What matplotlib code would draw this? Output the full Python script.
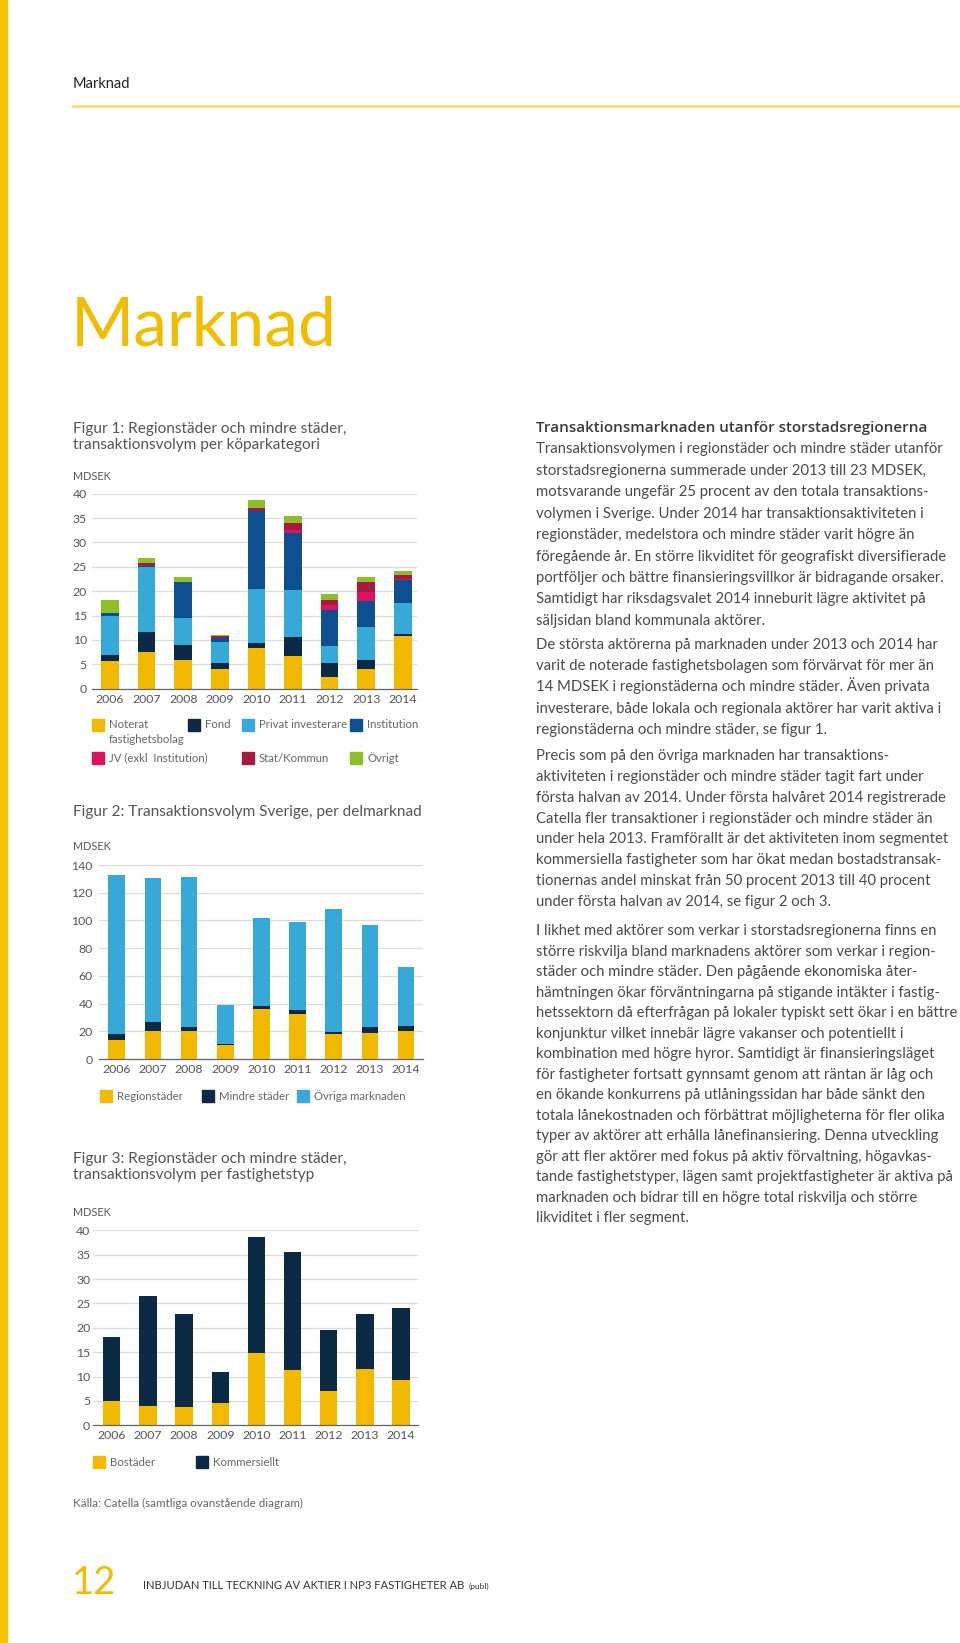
import numpy as np
import matplotlib
matplotlib.use("Agg")
import matplotlib.pyplot as plt
from matplotlib.patches import Rectangle
from matplotlib.lines import Line2D

plt.rcParams['font.family'] = ['Lato', 'DejaVu Sans']

W, H = 960, 1643

years = ['2006', '2007', '2008', '2009', '2010', '2011', '2012', '2013', '2014']

# Figur 1 - per köparkategori (MDSEK)
f1_names = ['Noterat\nfastighetsbolag', 'Fond', 'Privat investerare', 'Institution',
            'JV (exkl  Institution)', 'Stat/Kommun', 'Övrigt']
noterat = [5.6, 7.6, 5.9, 4.0, 8.3, 6.7, 2.3, 4.0, 10.8]
fond = [1.4, 4.1, 3.0, 1.3, 1.1, 4.0, 3.0, 1.9, 0.4]
privat = [7.9, 13.3, 5.7, 4.2, 11.0, 9.5, 3.5, 6.7, 6.4]
institution = [0.6, 0.1, 7.2, 1.0, 16.0, 11.7, 7.4, 5.4, 4.6]
jv = [0, 0, 0, 0, 0, 0.7, 0.9, 1.8, 0.4]
stat = [0, 0.6, 0.1, 0.3, 0.7, 1.4, 1.0, 2.1, 0.8]
ovrigt = [2.7, 1.1, 1.1, 0.3, 1.7, 1.4, 1.4, 1.0, 0.8]

# Figur 2 - per delmarknad (MDSEK)
f2_names = ['Regionstäder', 'Mindre städer', 'Övriga marknaden']
regionstader = [13.7, 20.2, 20.2, 9.9, 35.8, 32.2, 18.0, 18.5, 20.0]
mindre = [4.3, 6.3, 2.7, 0.9, 2.7, 3.2, 1.5, 4.4, 4.1]
ovriga = [115.0, 104.1, 108.7, 28.2, 63.5, 63.7, 88.8, 73.8, 42.1]

# Figur 3 - per fastighetstyp (MDSEK)
f3_names = ['Bostäder', 'Kommersiellt']
bostader = [4.9, 4.0, 3.8, 4.6, 14.8, 11.4, 7.0, 11.5, 9.2]
kommersiellt = [13.3, 22.6, 19.1, 6.4, 23.8, 24.1, 12.6, 11.3, 14.8]

YEL = '#f2b900'
NAVY = '#0b2a45'
LBLUE = '#36a9d9'
BLUE = '#0e4f92'
PINK = '#de1360'
CRIM = '#a51b40'
GREEN = '#8dbf2a'
GREY = '#555555'

f1_colors = [YEL, NAVY, LBLUE, BLUE, PINK, CRIM, GREEN]
f2_colors = [YEL, NAVY, LBLUE]
f3_colors = [YEL, NAVY]


def fx(x):
    return x / W


def fy(y):
    return 1 - y / H


fig = plt.figure(figsize=(W / 100, H / 100), dpi=100)


def make_axes(left, right, top, bottom):
    return fig.add_axes([fx(left), fy(bottom), (right - left) / W, (bottom - top) / H])


def style(ax, ymax, step, xlim, ypad):
    x = np.arange(len(years))
    ax.set_xlim(*xlim)
    ax.set_ylim(0, ymax)
    ax.set_yticks(np.arange(0, ymax + 1, step))
    ax.set_xticks(x)
    ax.set_xticklabels(years)
    for s in ['top', 'right', 'left']:
        ax.spines[s].set_visible(False)
    ax.spines['bottom'].set_color('#666666')
    ax.spines['bottom'].set_linewidth(0.9)
    ax.tick_params(axis='both', length=0, labelsize=8.8, colors=GREY)
    ax.tick_params(axis='y', pad=ypad)
    ax.tick_params(axis='x', pad=3.5)
    ax.grid(axis='y', color='#dcdcdc', linewidth=0.9)
    ax.set_axisbelow(True)


def stack(ax, series, colors, width):
    x = np.arange(len(years))
    bottom = np.zeros(len(years))
    for vals, c in zip(series, colors):
        vals = np.array(vals, dtype=float)
        ax.bar(x, vals, width, bottom=bottom, color=c, linewidth=0)
        bottom += vals


LEG = 8.2


def legend_item(x, y, color, label):
    fig.add_artist(Rectangle((fx(x), fy(y + 6)), 12 / W, 12 / H, color=color,
                             transform=fig.transFigure))
    fig.text(fx(x + 17), fy(y), label, fontsize=LEG, color='#666666', va='center')


# page decoration
fig.add_artist(Rectangle((0, 0), 7 / W, 1, color='#f5c100', transform=fig.transFigure))
fig.text(fx(73), fy(84), 'Marknad', fontsize=10.5, color='#222222', va='center')
fig.add_artist(Line2D([fx(73), 1], [fy(106), fy(106)], color='#f7dc7c', linewidth=2,
                      transform=fig.transFigure))
fig.text(fx(71), fy(346), 'Marknad', fontsize=49, color='#f2bd00', va='baseline')

# Figur 1
fig.text(fx(73), fy(437), 'Figur 1: Regionstäder och mindre städer,\ntransaktionsvolym per köparkategori',
         fontsize=11.1, color=GREY, va='center', linespacing=1.25)
fig.text(fx(73), fy(477), 'MDSEK', fontsize=7.8, color=GREY, va='center')
ax1 = make_axes(91.7, 416.7, 493.7, 688.7)
stack(ax1, [noterat, fond, privat, institution, jv, stat, ovrigt], f1_colors, 0.48)
style(ax1, 40, 5, (-0.5, 8.38), 3.5)
pos1 = [(92, 725), (188, 725), (242, 725), (350, 725), (92, 758), (242, 758), (350, 758)]
for (x, y), c, name in zip(pos1, f1_colors, f1_names):
    if '\n' in name:
        first, second = name.split('\n')
        legend_item(x, y, c, first)
        fig.text(fx(x + 17), fy(y + 15), second, fontsize=LEG, color='#666666', va='center')
    else:
        legend_item(x, y, c, name)

# Figur 2
fig.text(fx(73), fy(812), 'Figur 2: Transaktionsvolym Sverige, per delmarknad',
         fontsize=11.1, color=GREY, va='center')
fig.text(fx(73), fy(846), 'MDSEK', fontsize=7.8, color=GREY, va='center')
ax2 = make_axes(99, 423, 865, 1059)
stack(ax2, [regionstader, mindre, ovriga], f2_colors, 0.46)
style(ax2, 140, 20, (-0.49, 8.47), 4.5)
for x, c, name in zip([99.5, 202, 296.6], f2_colors, f2_names):
    legend_item(x, 1096, c, name)

# Figur 3
fig.text(fx(73), fy(1167), 'Figur 3: Regionstäder och mindre städer,\ntransaktionsvolym per fastighetstyp',
         fontsize=11.1, color=GREY, va='center', linespacing=1.25)
fig.text(fx(73), fy(1213), 'MDSEK', fontsize=7.8, color=GREY, va='center')
ax3 = make_axes(93, 418, 1230.3, 1425.3)
stack(ax3, [bostader, kommersiellt], f3_colors, 0.48)
style(ax3, 40, 5, (-0.52, 8.47), 2.0)
for x, c, name in zip([93, 196], f3_colors, f3_names):
    legend_item(x, 1462, c, name)

fig.text(fx(73), fy(1503), 'Källa: Catella (samtliga ovanstående diagram)', fontsize=8.4,
         color='#666666', va='center')

# footer
fig.text(fx(72), fy(1594), '12', fontsize=27.5, color='#f2bd00', va='baseline')
fig.text(fx(143), fy(1589), 'INBJUDAN TILL TECKNING AV AKTIER I NP3 FASTIGHETER AB',
         fontsize=8.1, color='#333333', va='baseline')
fig.text(fx(469), fy(1589), '(publ)', fontsize=6, color='#333333', va='baseline')

# right column text
heading = 'Transaktionsmarknaden utanför storstadsregionerna'
p1 = ["Transaktionsvolymen i regionstäder och mindre städer utanför",
      "storstadsregionerna summerade under 2013 till 23 MDSEK,",
      "motsvarande ungefär 25 procent av den totala transaktions-",
      "volymen i Sverige. Under 2014 har transaktionsaktiviteten i",
      "regionstäder, medelstora och mindre städer varit högre än",
      "föregående år. En större likviditet för geografiskt diversifierade",
      "portföljer och bättre finansieringsvillkor är bidragande orsaker.",
      "Samtidigt har riksdagsvalet 2014 inneburit lägre aktivitet på",
      "säljsidan bland kommunala aktörer."]
p2 = ["De största aktörerna på marknaden under 2013 och 2014 har",
      "varit de noterade fastighetsbolagen som förvärvat för mer än",
      "14 MDSEK i regionstäderna och mindre städer. Även privata",
      "investerare, både lokala och regionala aktörer har varit aktiva i",
      "regionstäderna och mindre städer, se figur 1."]
p3 = ["Precis som på den övriga marknaden har transaktions-",
      "aktiviteten i regionstäder och mindre städer tagit fart under",
      "första halvan av 2014. Under första halvåret 2014 registrerade",
      "Catella fler transaktioner i regionstäder och mindre städer än",
      "under hela 2013. Framförallt är det aktiviteten inom segmentet",
      "kommersiella fastigheter som har ökat medan bostadstransak-",
      "tionernas andel minskat från 50 procent 2013 till 40 procent",
      "under första halvan av 2014, se figur 2 och 3."]
p4 = ["I likhet med aktörer som verkar i storstadsregionerna finns en",
      "större riskvilja bland marknadens aktörer som verkar i region-",
      "städer och mindre städer. Den pågående ekonomiska åter-",
      "hämtningen ökar förväntningarna på stigande intäkter i fastig-",
      "hetssektorn då efterfrågan på lokaler typiskt sett ökar i en bättre",
      "konjunktur vilket innebär lägre vakanser och potentiellt i",
      "kombination med högre hyror. Samtidigt är finansieringsläget",
      "för fastigheter fortsatt gynnsamt genom att räntan är låg och",
      "en ökande konkurrens på utlåningssidan har både sänkt den",
      "totala lånekostnaden och förbättrat möjligheterna för fler olika",
      "typer av aktörer att erhålla lånefinansiering. Denna utveckling",
      "gör att fler aktörer med fokus på aktiv förvaltning, högavkas-",
      "tande fastighetstyper, lägen samt projektfastigheter är aktiva på",
      "marknaden och bidrar till en högre total riskvilja och större",
      "likviditet i fler segment."]

BODY = 10.7
TX = 535.5
fig.text(fx(TX), fy(427.6 + 4.5), heading, fontsize=10.9, color='#3a3a3a',
         family=['Open Sans', 'DejaVu Sans'], fontweight='semibold', va='baseline')
for start, pitch, lines in [(449.0, 21.42, p1), (644.5, 21.2, p2),
                            (755.6, 20.8, p3), (930.6, 20.5, p4)]:
    for i, line in enumerate(lines):
        fig.text(fx(TX), fy(start + i * pitch + 4.5), line, fontsize=BODY,
                 color='#4a4a4a', va='baseline')

fig.savefig('out.png', dpi=100, facecolor='white')
